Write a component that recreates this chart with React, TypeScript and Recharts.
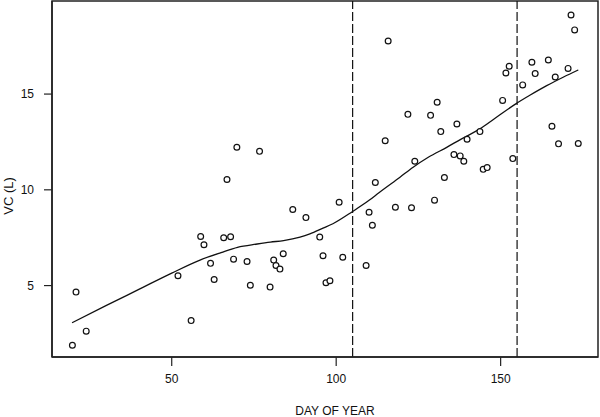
import React from "react";
import {
  ComposedChart,
  Scatter,
  Line,
  XAxis,
  YAxis,
  ReferenceLine,
  ReferenceArea,
} from "recharts";

// Observed points: day of year and VC (L)
const days = [
  19.8, 20.9, 24.0, 51.9, 55.9, 58.8, 59.8, 61.8, 62.9, 65.8, 66.8, 67.9, 68.8, 69.8,
  72.9, 73.9, 76.7, 79.9, 81.0, 81.7, 82.9, 83.9, 86.8, 90.8, 95.0, 96.0, 96.9, 98.1,
  100.9, 102.0, 109.1, 110.0, 111.0, 111.9, 114.9, 115.8, 118.0, 121.8, 122.9, 123.9,
  128.7, 129.9, 130.7, 131.8, 132.9, 135.8, 136.7, 137.7, 138.8, 139.8, 143.7, 144.7,
  145.9, 150.6, 151.6, 152.6, 153.7, 156.7, 159.5, 160.5, 164.5, 165.6, 166.6, 167.6,
  170.5, 171.4, 172.5, 173.6,
];
const vcValues = [
  1.88, 4.66, 2.62, 5.51, 3.17, 7.56, 7.13, 6.16, 5.32, 7.5, 10.54, 7.55, 6.38, 12.22,
  6.26, 5.02, 12.01, 4.92, 6.33, 6.05, 5.86, 6.66, 8.97, 8.55, 7.53, 6.56, 5.15, 5.25,
  9.35, 6.48, 6.05, 8.83, 8.15, 10.38, 12.56, 17.77, 9.09, 13.94, 9.06, 11.49,
  13.89, 9.46, 14.57, 13.04, 10.64, 11.84, 13.44, 11.77, 11.49, 12.64, 13.04, 11.07,
  11.16, 14.67, 16.1, 16.45, 11.63, 15.48, 16.66, 16.07, 16.78, 13.32, 15.89, 12.4,
  16.34, 19.13, 18.35, 12.42,
];

// Smoothed fit curve
const fitDays = [
  19.7, 30, 40, 50, 58.6, 65, 70, 76, 80, 84, 89, 92, 96, 99, 105, 110, 113, 119.4,
  123.4, 128, 133.6, 138, 143.7, 148, 154.6, 159, 164, 169, 173.6,
];
const fitValues = [
  3.06, 3.95, 4.8, 5.65, 6.33, 6.72, 7.0, 7.17, 7.27, 7.35, 7.53, 7.7, 8.0, 8.23, 8.87,
  9.45, 9.85, 10.66, 11.18, 11.7, 12.22, 12.65, 13.18, 13.7, 14.49, 14.95, 15.44, 15.88,
  16.26,
];

// Period boundaries (dashed lines)
const boundaries = [105, 155];

const xTicks = [50, 100, 150];
const yTicks = [5, 10, 15];
const xDomain: [number, number] = [13.6, 179.6];
const yDomain: [number, number] = [1.27, 19.86];

const points = days.map((d, i) => ({ d, v: vcValues[i] }));
const fit = fitDays.map((d, i) => ({ d, v: fitValues[i] }));

const FONT = "'Liberation Sans', Arial, Helvetica, sans-serif";

const Circle = (props: any) => {
  const { cx, cy } = props;
  if (cx == null || cy == null) return null;
  return <circle cx={cx} cy={cy} r={2.9} fill="#fff" stroke="#111" strokeWidth={1.2} />;
};

const YLabel = () => (
  <text
    x={8}
    y={196}
    transform="rotate(-90, 8, 196)"
    textAnchor="middle"
    dominantBaseline="central"
    fill="#111"
    fontSize={13}
    fontFamily={FONT}
  >
    VC (L)
  </text>
);

export default function App() {
  return (
    <div style={{ position: "absolute", left: 0, top: 0, background: "#fff" }}>
      <ComposedChart
        width={600}
        height={417}
        margin={{ top: 1, right: 2, bottom: 0, left: 0 }}
      >
        <XAxis
          type="number"
          dataKey="d"
          domain={xDomain}
          allowDataOverflow
          ticks={xTicks}
          height={60}
          tickSize={9}
          tickMargin={8}
          axisLine={{ stroke: "#222", strokeWidth: 1.5 }}
          tickLine={{ stroke: "#222", strokeWidth: 1.2 }}
          tick={{ fill: "#111", fontSize: 12, fontFamily: FONT }}
          label={{
            value: "DAY OF YEAR",
            position: "insideBottom",
            offset: 2,
            dx: 10,
            fill: "#111",
            fontSize: 12,
            fontFamily: FONT,
          }}
        />
        <YAxis
          type="number"
          dataKey="v"
          domain={yDomain}
          allowDataOverflow
          ticks={yTicks}
          width={52}
          tickSize={8}
          tickMargin={10}
          axisLine={{ stroke: "#222", strokeWidth: 1.5 }}
          tickLine={{ stroke: "#222", strokeWidth: 1.2 }}
          tick={{ fill: "#111", fontSize: 12, fontFamily: FONT }}
          label={{ value: "VC (L)", content: YLabel }}
        />
        <ReferenceArea
          x1={xDomain[0]}
          x2={xDomain[1]}
          y1={yDomain[0]}
          y2={yDomain[1]}
          fill="none"
          fillOpacity={0}
          stroke="#222"
          strokeWidth={1.5}
        />
        {boundaries.map((b) => (
          <ReferenceLine
            key={b}
            x={b}
            stroke="#111"
            strokeWidth={1.2}
            strokeDasharray="9 3"
          />
        ))}
        <Line
          data={fit}
          dataKey="v"
          type="monotone"
          stroke="#111"
          strokeWidth={1.3}
          dot={false}
          activeDot={false}
          isAnimationActive={false}
        />
        <Scatter
          data={points}
          dataKey="v"
          shape={Circle}
          isAnimationActive={false}
        />
      </ComposedChart>
    </div>
  );
}
